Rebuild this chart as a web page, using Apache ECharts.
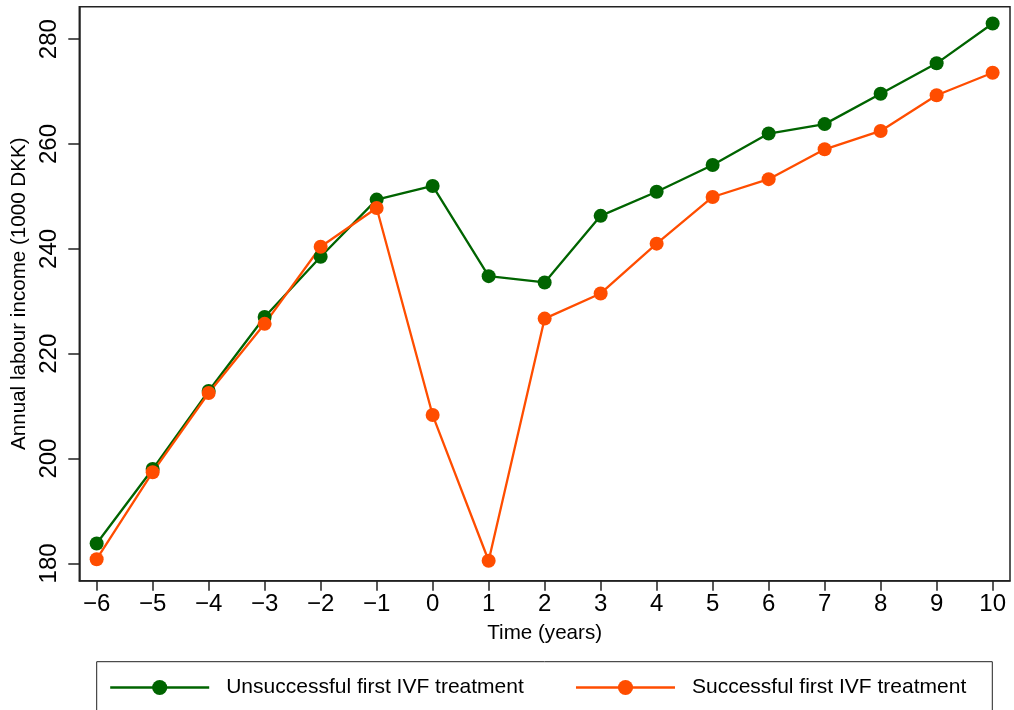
<!DOCTYPE html>
<html>
<head>
<meta charset="utf-8">
<script src="https://cdn.jsdelivr.net/npm/echarts@6/dist/echarts.min.js"></script>
<style>
html,body{margin:0;padding:0;background:#fff;}
#chart{width:1014px;height:710px;}
</style>
</head>
<body>
<div id="chart"></div>
<script>
const years = [-6,-5,-4,-3,-2,-1,0,1,2,3,4,5,6,7,8,9,10];
const unsuccessful = [183.8,198.0,212.9,227.0,238.5,249.4,252.0,234.8,233.6,246.3,250.9,256.0,262.0,263.8,269.6,275.4,283.0];
const successful = [180.8,197.4,212.5,225.7,240.4,247.8,208.3,180.5,226.7,231.5,241.0,249.9,253.3,259.0,262.5,269.3,273.6];
const yTicks = [180,200,220,240,260,280];
const xTicks = years;
const seriesNames = ['Unsuccessful first IVF treatment','Successful first IVF treatment'];
const xTitle = 'Time (years)';
const yTitle = 'Annual labour income (1000 DKK)';

const FONT = '"Liberation Sans", Arial, sans-serif';
const toPairs = (vals) => years.map((x, i) => [x, vals[i]]);

const chart = echarts.init(document.getElementById('chart'), null, {renderer: 'canvas'});
chart.setOption({
  animation: false,
  backgroundColor: '#fff',
  textStyle: {fontFamily: FONT},
  grid: {left: 79.3, right: 4, top: 6.7, bottom: 129.3, show: true, borderColor: '#222', borderWidth: 1.5, containLabel: false},
  xAxis: {
    type: 'value', min: -6.31, max: 10.31,
    name: xTitle, nameLocation: 'middle', nameGap: 42,
    nameTextStyle: {fontFamily: FONT, fontSize: 20.6, color: '#000'},
    axisLine: {show: true, onZero: false, lineStyle: {color: '#222', width: 1.5}},
    axisTick: {show: true, length: 10, lineStyle: {color: '#222', width: 1.5}, customValues: xTicks},
    axisLabel: {fontFamily: FONT, fontSize: 24, color: '#000', margin: 12, customValues: xTicks,
      formatter: v => String(v).replace('-', '\u2212')},
    splitLine: {show: false}
  },
  yAxis: {
    type: 'value', min: 176.7, max: 286.2,
    name: yTitle, nameLocation: 'middle', nameGap: 47, nameRotate: 90,
    nameTextStyle: {fontFamily: FONT, fontSize: 20.6, color: '#000'},
    axisLine: {show: true, onZero: false, lineStyle: {color: '#222', width: 1.5}},
    axisTick: {show: true, length: 11, lineStyle: {color: '#222', width: 1.5}, customValues: yTicks},
    axisLabel: {fontFamily: FONT, fontSize: 24, color: '#000', margin: 18, rotate: 90, customValues: yTicks},
    splitLine: {show: false}
  },
  legend: {
    left: 109, top: 677, padding: 0, itemGap: 51,
    itemWidth: 99, itemHeight: 19,
    lineStyle: {width: 2.4},
    textStyle: {fontFamily: FONT, fontSize: 21, color: '#000', padding: [0,0,0,12]},
    data: seriesNames
  },
  graphic: [{
    type: 'rect', silent: true,
    shape: {x: 96.7, y: 661.7, width: 895.6, height: 70},
    style: {fill: 'none', stroke: '#222', lineWidth: 1}
  }],
  series: [
    {name: seriesNames[0], type: 'line', data: toPairs(unsuccessful), symbol: 'circle', symbolSize: 14,
      itemStyle: {color: '#006400'}, lineStyle: {color: '#006400', width: 2.3}},
    {name: seriesNames[1], type: 'line', data: toPairs(successful), symbol: 'circle', symbolSize: 14,
      itemStyle: {color: '#ff4d00'}, lineStyle: {color: '#ff4d00', width: 2.3}}
  ]
});
</script>
</body>
</html>
